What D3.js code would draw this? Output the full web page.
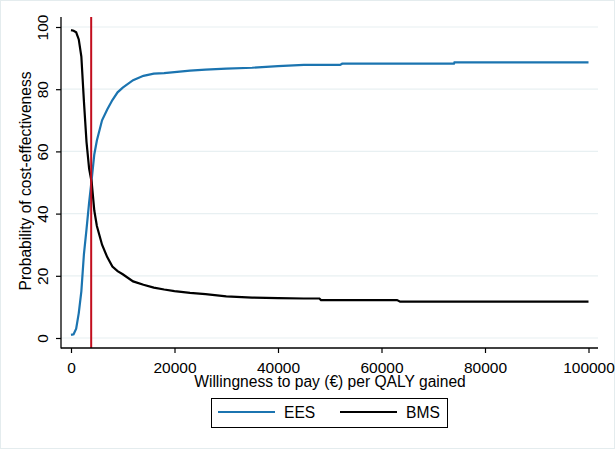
<!DOCTYPE html>
<html>
<head>
<meta charset="utf-8">
<script src="https://cdn.jsdelivr.net/npm/d3@7"></script>
<style>
  body { margin: 0; background: #fff; }
  svg text { font-family: "Liberation Sans", Arial, sans-serif; }
</style>
</head>
<body>
<div id="chart"></div>
<script>
// willingness to pay (EUR per QALY)
const wtp = [0, 500, 1000, 1500, 2000, 2500, 3000, 3500, 4000, 4500, 5000, 6000, 7000, 8000, 9000, 10000,
  12000, 14000, 16000, 18000, 20000, 23000, 26000, 30000, 35000, 40000, 45000, 48000, 48300, 52000, 52400,
  56000, 63000, 63600, 70000, 74000, 74100, 80000, 90000, 100000];
const ees = [1, 1.2, 3, 8, 15, 27, 35, 43.5, 51, 59, 63.5, 70, 73.5, 76.5, 79, 80.5,
  82.9, 84.3, 85, 85.2, 85.5, 86, 86.3, 86.6, 86.9, 87.4, 87.8, 87.8, 87.8, 87.8, 88.2,
  88.2, 88.2, 88.2, 88.2, 88.2, 88.6, 88.6, 88.6, 88.6];
const bms = [99, 98.8, 98.3, 96, 90.5, 76, 63, 54.5, 50, 41, 36, 30, 26, 23, 21.5, 20.5,
  18.2, 17.1, 16.2, 15.6, 15.1, 14.5, 14.1, 13.4, 13, 12.8, 12.7, 12.7, 12.2, 12.2, 12.2,
  12.2, 12.2, 11.7, 11.7, 11.7, 11.7, 11.7, 11.7, 11.7];
const xTicks = [0, 20000, 40000, 60000, 80000, 100000];
const yTicks = [0, 20, 40, 60, 80, 100];
const threshold = 3900;
const seriesNames = ["EES", "BMS"];
const seriesColors = ["#1b74b0", "#000000"];

const width = 615, height = 449;

const svg = d3.select("#chart").append("svg")
  .attr("width", width)
  .attr("height", height);

// light outer frame
svg.append("rect")
  .attr("x", 0.5).attr("y", 0.5)
  .attr("width", width - 1).attr("height", height - 1)
  .attr("fill", "#fff")
  .attr("stroke", "#e4ecee");

const x = d3.scaleLinear().domain([0, 100000]).range([71, 588.5]);
const y = d3.scaleLinear().domain([0, 100]).range([338, 27]);

const axisLeftX = 61, axisBottomY = 348, plotRight = 598, plotTop = 17;

// gridlines
svg.append("g").selectAll("line")
  .data(yTicks)
  .enter().append("line")
  .attr("x1", axisLeftX).attr("x2", plotRight)
  .attr("y1", d => y(d)).attr("y2", d => y(d))
  .attr("stroke", "#e8f0f2")
  .attr("stroke-width", 1.2);

// curves
const line = d3.line().x(d => x(d[0])).y(d => y(d[1]));
[ees, bms].forEach((vals, i) => {
  svg.append("path")
    .datum(wtp.map((w, j) => [w, vals[j]]))
    .attr("d", line)
    .attr("fill", "none")
    .attr("stroke", seriesColors[i])
    .attr("stroke-width", 2.2);
});

// threshold line
svg.append("line")
  .attr("x1", x(threshold)).attr("x2", x(threshold))
  .attr("y1", plotTop).attr("y2", axisBottomY)
  .attr("stroke", "#c20e1e")
  .attr("stroke-width", 2);

// y axis
const yAxis = svg.append("g")
  .attr("transform", `translate(${axisLeftX},0)`)
  .call(d3.axisLeft(y).tickValues(yTicks).tickSize(5).tickSizeOuter(0).tickPadding(0));
yAxis.select(".domain").remove();
yAxis.append("line")
  .attr("y1", plotTop).attr("y2", axisBottomY + 0.5)
  .attr("stroke", "#000").attr("stroke-width", 1.3);
yAxis.selectAll(".tick line").attr("stroke-width", 1.2);
yAxis.selectAll(".tick text")
  .attr("x", 0).attr("dy", 0)
  .attr("transform", "translate(-13.5,0) rotate(-90)")
  .attr("text-anchor", "middle")
  .attr("fill", "#000")
  .style("font-size", "15.5px");

// x axis
const xAxis = svg.append("g")
  .attr("transform", `translate(0,${axisBottomY})`)
  .call(d3.axisBottom(x).tickValues(xTicks).tickFormat(d3.format("d")).tickSize(5).tickSizeOuter(0));
xAxis.select(".domain").remove();
xAxis.append("line")
  .attr("x1", axisLeftX).attr("x2", plotRight)
  .attr("stroke", "#000").attr("stroke-width", 1.3);
xAxis.selectAll(".tick line").attr("stroke-width", 1.2);
xAxis.selectAll(".tick text")
  .attr("y", 25).attr("dy", 0)
  .attr("fill", "#000")
  .style("font-size", "15.5px");

// axis titles
svg.append("text")
  .attr("x", 330).attr("y", 386.5)
  .attr("text-anchor", "middle")
  .style("font-size", "15.6px")
  .text("Willingness to pay (€) per QALY gained");

svg.append("text")
  .attr("transform", `translate(30.5,181) rotate(-90)`)
  .attr("text-anchor", "middle")
  .style("font-size", "15.6px")
  .text("Probability of cost-effectiveness");

// legend
const legend = svg.append("g");
legend.append("rect")
  .attr("x", 211.5).attr("y", 398.5)
  .attr("width", 236).attr("height", 29)
  .attr("fill", "#fff")
  .attr("stroke", "#000");
const legX = [218, 340];
seriesNames.forEach((name, i) => {
  legend.append("line")
    .attr("x1", legX[i]).attr("x2", legX[i] + 57)
    .attr("y1", 412).attr("y2", 412)
    .attr("stroke", seriesColors[i])
    .attr("stroke-width", 2.2);
  legend.append("text")
    .attr("x", legX[i] + 66).attr("y", 418)
    .style("font-size", "15.6px")
    .text(name);
});
</script>
</body>
</html>
